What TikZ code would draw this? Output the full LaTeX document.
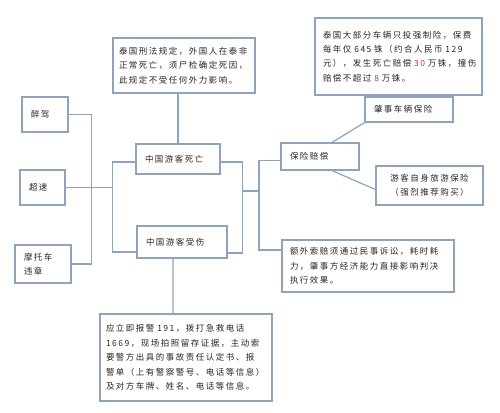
\documentclass[tikz,border=0pt]{standalone}
\usepackage{fontspec}
\setmainfont[LetterSpace=18]{Noto Sans CJK SC}
\definecolor{linegray}{HTML}{8FA3BC}
\definecolor{txtgray}{HTML}{262626}
\definecolor{numred}{HTML}{E0302A}

\begin{document}
\begin{tikzpicture}[x=1bp, y=-1bp,
	box/.style={draw=linegray, line width=1.2bp, fill=white, text=txtgray, align=left,
		inner xsep=9bp, inner ysep=0pt, font=\fontsize{8.5}{14.5}\selectfont},
	link/.style={draw=linegray, line width=1.2bp}]
	\fill[white] (0,0) rectangle (500,412);
	\useasboundingbox (0,0) rectangle (500,412);

	% Boxes on the left
	\node[box, text width=28bp, minimum height=35bp] (drunk) at (45,114.5) {醉驾};
	\node[box, text width=27bp, minimum height=35bp] (speed) at (42.5,187.5) {超速};
	\node[box, text width=38bp, minimum height=38bp] (moto) at (43,264) {摩托车\\违章};

	% Middle boxes
	\node[box, text width=130bp, inner xsep=6bp, minimum height=55bp] (law) at (184,65.5) {泰国刑法规定，外国人在泰非\\正常死亡，须尸检确定死因，\\此规定不受任何外力影响。};
	\node[box, text width=66bp, minimum height=30bp] (death) at (178,159) {中国游客死亡};
	\node[box, text width=72bp, minimum height=32bp] (injury) at (182,242) {中国游客受伤};
	\node[box, text width=160bp, inner xsep=6bp, minimum height=87bp] (report) at (186,357.5) {应立即报警~191，拨打急救电话\\1669，现场拍照留存证据，主动索\\要警方出具的事故责任认定书、报\\警单（上有警察警号、电话等信息）\\及对方车牌、姓名、电话等信息。};

	% Boxes on the right
	\node[box, text width=151bp, inner xsep=8bp, minimum height=77bp] (fee) at (398.5,56.5) {泰国大部分车辆只投强制险，保费\\每年仅~645~铢（约合人民币~129\\元），发生死亡赔偿~\textcolor{numred}{30}~万铢，撞伤\\赔偿不超过~\textcolor{numred}{8}~万铢。};
	\node[box, text width=70bp, minimum height=25bp] (third) at (409,109.5) {肇事车辆保险};
	\node[box, text width=60bp, minimum height=27bp] (ins) at (320,156.5) {保险赔偿};
	\node[box, text width=89bp, align=center, minimum height=39bp] (self) at (429.5,185.5) {游客自身旅游保险\\（强烈推荐购买）};
	\node[box, text width=156bp, inner xsep=8bp, minimum height=52bp] (extra) at (368,266) {额外索赔须通过民事诉讼，耗时耗\\力，肇事方经济能力直接影响判决\\执行效果。};

	% Connectors
	\coordinate (lbar) at (113,200);
	\draw[link] (drunk.east) -- ++(23,0) |- (moto.east);
	\draw[link] (speed.east) -- (speed.east -| lbar);
	\draw[link] ([yshift=-3bp]death.west) -- ++(-23,0) |- ([yshift=-10bp]injury.west);
	\draw[link] (death.north) -- (death.north |- law.south);
	\draw[link] ([xshift=-9bp]injury.south) -- ([xshift=-13bp]report.north);
	\draw[link] ([yshift=-3bp]death.east) -- ++(22,0) |- ([yshift=-11bp]injury.east);
	\coordinate (mid) at (242,191);
	\draw[link] (mid) -- ++(17,0) coordinate (mid2);
	\draw[link] ([yshift=-4bp]ins.west) -| (mid2) |- ([yshift=16bp]extra.west);
	\draw[link] ([xshift=12bp]ins.north) -- (third.south west);
	\draw[link] ([xshift=12bp]ins.south) -- ([yshift=-4bp]self.west);
	\draw[link] ([xshift=4.5bp]fee.south) -- ([xshift=-6bp]third.north);
\end{tikzpicture}
\end{document}
